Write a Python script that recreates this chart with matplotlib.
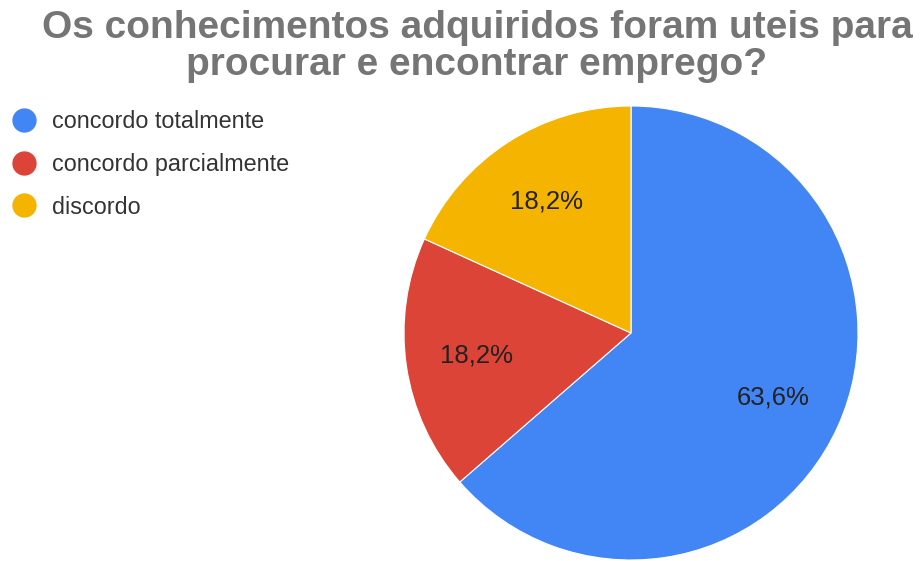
import matplotlib
matplotlib.use("Agg")
import matplotlib.pyplot as plt
from matplotlib.lines import Line2D

title = "Os conhecimentos adquiridos foram uteis para\nprocurar e encontrar emprego?"
categories = ["concordo totalmente", "concordo parcialmente", "discordo"]
values = [63.6, 18.2, 18.2]
colors = ["#4285F4", "#DB4437", "#F4B400"]

W, H = 921, 561
fig = plt.figure(figsize=(W / 100, H / 100), dpi=100)
fig.patch.set_facecolor("white")

cx, cy, r = 631, 333, 227
ax = fig.add_axes([(cx - r) / W, (H - cy - r) / H, 2 * r / W, 2 * r / H])
wedges, texts, autotexts = ax.pie(
    values, colors=colors, startangle=90, counterclock=False,
    autopct=lambda p: f"{p:.1f}%".replace(".", ","), pctdistance=0.69,
    radius=1, wedgeprops=dict(linewidth=0.8, edgecolor="white"),
    textprops=dict(fontsize=18.5, color="#222222", family="Liberation Sans"))
ax.set_xlim(-1, 1)
ax.set_ylim(-1, 1)
ax.set_aspect("equal")
ax.axis("off")

fig.text(477 / W, 1 - 10 / H, title, ha="center", va="top", fontsize=28,
         fontweight="bold", color="#757575", family="Liberation Sans",
         linespacing=1.03)

handles = [Line2D([0], [0], marker="o", linestyle="", markersize=16.5,
                  markerfacecolor=c, markeredgecolor=c) for c in colors]
leg = fig.legend(handles, categories, loc="upper left",
                 bbox_to_anchor=(12 / W, 1 - 110 / H), frameon=False,
                 prop=dict(family="Liberation Sans", size=16.8),
                 handletextpad=0.72, labelspacing=0.85, handlelength=1.0,
                 borderpad=0, borderaxespad=0)
for t in leg.get_texts():
    t.set_color("#333333")

fig.savefig("out.png", dpi=100, facecolor="white")
